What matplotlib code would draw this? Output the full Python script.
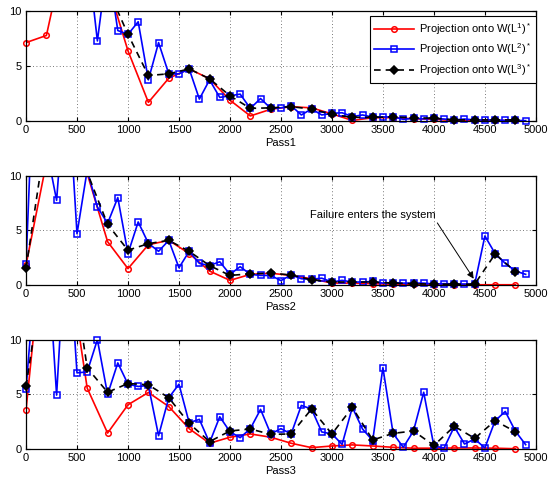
import numpy as np
import matplotlib
matplotlib.use('Agg')
import matplotlib.pyplot as plt
from matplotlib.lines import Line2D

plt.rcParams['font.family'] = ['Liberation Sans', 'DejaVu Sans']
plt.rcParams['font.size'] = 8
plt.rcParams['mathtext.default'] = 'regular'

# x positions: red and black every 200 passes, blue every 100
x200 = np.arange(0, 5000, 200)
x100 = np.arange(0, 5000, 100)

# Pass1
red1 = [7.15, 7.8, 16.3, 18, 12.5, 6.4, 1.7, 3.9, 4.75, 3.85, 1.9, 0.46, 1.07,
        1.3, 1.2, 0.65, 0.05, 0.3, 0.3, 0.2, 0.15, 0.05, 0.05, 0.05, 0.05]
blue1 = [22, 25, 20, 24, 21, 19, 15.5, 7.3, 14.5, 8.25,
         7.9, 9.05, 3.75, 7.15, 4.3, 4.3, 4.75, 2.0, 3.75, 2.15,
         2.3, 2.45, 1.15, 2.05, 1.15, 1.2, 1.4, 0.55, 1.1, 0.55,
         0.7, 0.75, 0.4, 0.55, 0.35, 0.37, 0.37, 0.15, 0.25, 0.2,
         0.25, 0.18, 0.1, 0.18, 0.1, 0.1, 0.1, 0.05, 0.05, 0.03]
black1 = [20, 22, 19, 16, 12.1, 7.9, 4.15, 4.3, 4.75, 3.85, 2.3, 1.15, 1.2,
          1.3, 1.1, 0.6, 0.33, 0.33, 0.37, 0.3, 0.25, 0.1, 0.1, 0.1, 0.1]

# Pass2
red2 = [1.85, 11.2, 16, 10.2, 3.98, 1.52, 3.7, 4.1, 2.9, 1.3, 0.45, 1.0, 1.1,
        0.9, 0.6, 0.2, 0.2, 0.15, 0.1, 0.1, 0.05, 0.05, 0.05, 0.05, 0.05]
blue2 = [1.9, 25, 12.5, 7.75, 20, 4.7, 10.5, 7.14, 5.65, 8.0,
         2.9, 5.78, 3.83, 3.1, 4.1, 1.6, 3.1, 2.0, 1.8, 2.15,
         1.0, 1.7, 1.0, 0.9, 0.9, 0.43, 0.95, 0.6, 0.55, 0.65,
         0.3, 0.45, 0.3, 0.3, 0.35, 0.2, 0.25, 0.2, 0.2, 0.2,
         0.12, 0.15, 0.12, 0.12, 0.1, 4.5, 2.9, 2.0, 1.3, 1.0]
black2 = [1.55, 13.9, 18, 10.3, 5.56, 3.2, 3.8, 4.1, 3.1, 1.8, 0.9, 1.05, 1.1,
          0.95, 0.5, 0.3, 0.3, 0.3, 0.2, 0.15, 0.1, 0.1, 0.1, 2.85, 1.25]

# Pass3
red3 = [3.58, 22, 18, 5.58, 1.48, 4.06, 5.18, 3.9, 1.88, 0.55, 1.1, 1.4, 1.1,
        0.55, 0.15, 0.3, 0.4, 0.3, 0.18, 0.1, 0.1, 0.12, 0.12, 0.1, 0.05]
blue3 = [5.5, 17, 19.5, 4.94, 21, 6.97, 7.06, 10.0, 5.0, 7.88,
         5.94, 5.73, 5.82, 1.24, 4.7, 5.94, 2.42, 2.73, 0.6, 2.97,
         1.6, 1.06, 1.88, 3.64, 1.4, 1.88, 1.4, 4.0, 3.67, 1.58,
         1.4, 0.45, 3.82, 1.85, 0.8, 7.45, 1.45, 0.18, 1.67, 5.2,
         0.3, 0.12, 2.06, 0.48, 0.94, 0.12, 2.6, 3.45, 1.64, 0.42]
black3 = [5.73, 18, 20, 7.42, 5.2, 6.0, 5.88, 4.7, 2.36, 0.7, 1.67, 1.85, 1.36,
          1.4, 3.67, 1.4, 3.82, 0.85, 1.45, 1.67, 0.35, 2.1, 1.0, 2.6, 1.6]

passes = [(red1, blue1, black1, 'Pass1'),
          (red2, blue2, black2, 'Pass2'),
          (red3, blue3, black3, 'Pass3')]

labels = ['Projection onto W(L$^1$)$^*$',
          'Projection onto W(L$^2$)$^*$',
          'Projection onto W(L$^3$)$^*$']

styles = [dict(color='red', marker='o', mfc='none', ls='-'),
          dict(color='blue', marker='s', mfc='none', ls='-'),
          dict(color='black', marker='D', mfc='black', ls=(0, (4, 3)))]

LW = 1.2
MS = 4

fig = plt.figure(figsize=(5.5, 4.83), dpi=100)
bottoms = [0.7495, 0.4093, 0.0698]

axes = []
for (r, b, k, name), bot in zip(passes, bottoms):
    ax = fig.add_axes([0.0473, bot, 0.927, 0.227])
    for xs, ys, st in zip([x200, x100, x200], [r, b, k], styles):
        ys = np.asarray(ys, dtype=float)
        ax.plot(xs, ys, color=st['color'], lw=LW, ls=st['ls'])
        # markers inside the y range, not clipped at the frame
        shown = np.where(ys <= 10, ys, np.nan)
        ax.plot(xs, shown, ls='none', color=st['color'], marker=st['marker'],
                ms=MS, mfc=st['mfc'], mew=1.1, clip_on=False)
    ax.set_xlim(0, 5000)
    ax.set_ylim(0, 10)
    ax.set_xticks(np.arange(0, 5001, 500))
    ax.set_yticks([0, 5, 10])
    ax.tick_params(direction='in', top=True, right=True, length=3, pad=3,
                   labelsize=8)
    ax.grid(True, ls=(0, (1, 3)), color='0.3', lw=0.6)
    for s in ax.spines.values():
        s.set_linewidth(0.9)
    ax.set_xlabel(name, fontsize=8, labelpad=2)
    axes.append(ax)

handles = [Line2D([], [], color=st['color'], lw=LW, ls=st['ls'], marker=st['marker'],
                  ms=MS, mfc=st['mfc'], mew=1.1) for st in styles]
leg = axes[0].legend(handles, labels, loc='upper right', bbox_to_anchor=(1.0, 0.955),
                     borderaxespad=0, fancybox=False, framealpha=1, edgecolor='black',
                     fontsize=8, labelspacing=0.45, handlelength=3.6, handletextpad=0.4,
                     borderpad=0.4)
leg.get_frame().set_linewidth(0.8)

axes[1].annotate('Failure enters the system', xy=(4390, 0.6), xytext=(3400, 6.4),
                 ha='center', va='center', fontsize=8,
                 arrowprops=dict(arrowstyle='-|>', color='black', lw=0.7,
                                 mutation_scale=10, shrinkA=0, shrinkB=0,
                                 relpos=(1.0, 0.0)))

fig.savefig('out.png', dpi=100)
